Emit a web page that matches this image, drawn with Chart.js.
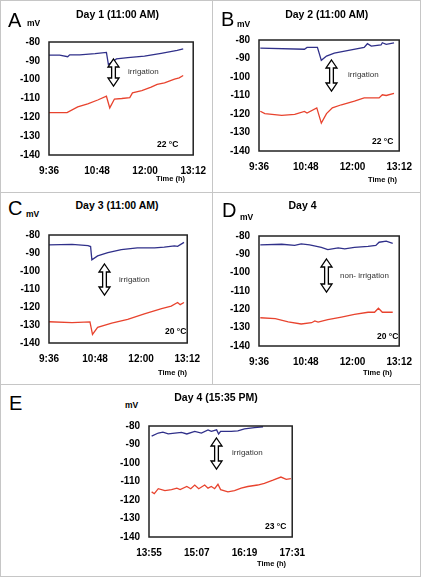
<!DOCTYPE html>
<html><head><meta charset="utf-8">
<script src="https://cdn.jsdelivr.net/npm/chart.js@4.4.0/dist/chart.umd.min.js"></script>
<style>
html,body{margin:0;padding:0;background:#fff;}
#root{position:relative;width:421px;height:577px;overflow:hidden;font-family:"Liberation Sans",Arial,sans-serif;}
.t{position:absolute;white-space:nowrap;line-height:1;color:#000;}
.ln{position:absolute;background:#c6c6c6;}
canvas{position:absolute;}
svg{position:absolute;overflow:visible;}
</style></head><body><div id="root"></div>
<script>
// ---------- DATA ----------
const yTickValues = [-80, -90, -100, -110, -120, -130, -140];
const ticksMorning = [576, 648, 720, 792];          // minutes of day
const ticksMorningLabels = ['9:36', '10:48', '12:00', '13:12'];
const ticksAfternoon = [835, 907, 979, 1051];
const ticksAfternoonLabels = ['13:55', '15:07', '16:19', '17:31'];

const A_blue_t = [576, 592, 604, 607, 622, 645, 662, 665, 677, 694, 719, 744, 768, 777];
const A_blue_v = [-87, -87, -87.8, -86.8, -86.8, -86.2, -85.5, -92, -89, -88.3, -87.5, -86, -84.5, -83.7];
const A_red_t = [576, 603, 619, 634, 649, 662, 667, 674, 685, 697, 701, 715, 729, 738, 749, 764, 771, 777];
const A_red_v = [-117.5, -117.5, -114.5, -112.8, -110.8, -108.8, -115, -110.3, -110, -109.5, -107, -105.8, -104, -102.5, -101.7, -99.7, -99, -97.8];

const B_blue_t = [578, 646, 650, 666, 672, 680, 692, 712, 738, 743, 749, 764, 766, 772, 784];
const B_blue_v = [-84.4, -85, -84, -84, -91, -88.7, -87.1, -85.8, -84, -82, -83.3, -82.7, -81.5, -82.4, -81.5];
const B_red_t = [578, 585, 611, 631, 646, 650, 665, 672, 680, 689, 703, 723, 738, 761, 766, 772, 784];
const B_red_v = [-118.5, -119.8, -120.7, -120.2, -118.6, -119.5, -116.7, -124.9, -119.8, -116.7, -115, -113, -111.3, -111.3, -109.6, -110, -108.8];

const C_blue_t = [576, 612, 637, 641, 643, 652, 668, 689, 714, 741, 756, 772, 777, 787];
const C_blue_v = [-85.5, -85.2, -85.9, -86.4, -93.8, -91.6, -89.8, -88.1, -87.2, -87.2, -86.7, -86, -86.3, -84.1];
const C_red_t = [576, 612, 640, 644, 652, 674, 699, 725, 752, 767, 777, 781, 787];
const C_red_v = [-128.2, -128.7, -128.3, -135.2, -131.3, -129, -126.9, -123.8, -120.9, -119.5, -117.5, -118.7, -117.5];

const D_blue_t = [578, 611, 631, 641, 654, 672, 682, 698, 708, 723, 744, 756, 761, 772, 782];
const D_blue_v = [-84.8, -84.5, -85.1, -84.3, -84.8, -86.2, -87.4, -86.5, -87, -86.2, -85.7, -85.1, -83.4, -82.8, -84];
const D_red_t = [578, 601, 621, 641, 657, 662, 667, 682, 703, 723, 744, 754, 760, 766, 782];
const D_red_v = [-124.6, -125.1, -126.8, -128, -127.3, -126.3, -127, -125.6, -124.2, -122.8, -121.6, -121.6, -119.4, -121.6, -121.6];

const E_blue_t = [839, 849, 856, 864, 874, 884, 892, 904, 914, 924, 929, 937, 940, 943, 959, 969, 979, 994, 1007];
const E_blue_v = [-85.5, -83.8, -83.3, -84.3, -83.8, -83.4, -84.3, -82.9, -83.8, -82.1, -82.9, -82.1, -84.3, -82.9, -82.9, -82.6, -81.5, -80.9, -80.4];
const E_red_t = [839, 843, 849, 859, 869, 877, 882, 892, 898, 904, 910, 919, 924, 929, 934, 939, 943, 954, 964, 974, 984, 999, 1009, 1022, 1034, 1042, 1049];
const E_red_v = [-115.6, -116.6, -113.9, -114.9, -114.4, -113.6, -114.4, -112.7, -113.9, -111.9, -113.9, -111.9, -113.6, -112.7, -113.9, -111.5, -114.4, -115.6, -114.9, -113.6, -112.7, -111.9, -111, -109.3, -107.6, -108.8, -108.5];

// ---------- LAYOUT ----------
const FONT = '"Liberation Sans", Arial, sans-serif';
const BLUE = '#30308a', RED = '#e8432e';
const panels = [
  {plot:[49,35,194,155], ticks:ticksMorning, labels:ticksMorningLabels, blue:[A_blue_t,A_blue_v], red:[A_red_t,A_red_v],
   letter:['A',8,19.7], mv:[27,22.5], title:['Day 1 (11:00 AM)',117.5,14], time:[156,179], note:['irrigation',128,72],
   temp:['22 °C',157,144], arrow:[108,59,11,27]},
  {plot:[259,33,400,151], ticks:ticksMorning, labels:ticksMorningLabels, blue:[B_blue_t,B_blue_v], red:[B_red_t,B_red_v],
   letter:['B',221,18.5], mv:[237,24], title:['Day 2 (11:00 AM)',326.7,14], time:[368,180], note:['irrigation',348,75],
   temp:['22 °C',372,141], arrow:[326,60,11,31]},
  {plot:[49,228,188,343], ticks:ticksMorning, labels:ticksMorningLabels, blue:[C_blue_t,C_blue_v], red:[C_red_t,C_red_v],
   letter:['C',8,207.5], mv:[26,214], title:['Day 3 (11:00 AM)',117,205], time:[158,373], note:['irrigation',119,280],
   temp:['20 °C',165,331], arrow:[98.5,264,11,31]},
  {plot:[259,229,400,346], ticks:ticksMorning, labels:ticksMorningLabels, blue:[D_blue_t,D_blue_v], red:[D_red_t,D_red_v],
   letter:['D',222,210], mv:[240,217], title:['Day 4',302.5,205], time:[363,373], note:['non- irrigation',340,276],
   temp:['20 °C',377,336], arrow:[320.5,259,11,33]},
  {plot:[149,419,293,537], ticks:ticksAfternoon, labels:ticksAfternoonLabels, blue:[E_blue_t,E_blue_v], red:[E_red_t,E_red_v],
   letter:['E',9,403], mv:[125,405], title:['Day 4 (15:35 PM)',216,397], time:[257,564], note:['irrigation',232,453],
   temp:['23 °C',265,526], arrow:[211,438,11,31]}
];

const root = document.getElementById('root');
function line(x,y,w,h){const d=document.createElement('div');d.className='ln';Object.assign(d.style,{left:x+'px',top:y+'px',width:w+'px',height:h+'px'});root.appendChild(d);}
line(0,0,421,1); line(0,576,421,1); line(0,0,1,577); line(420,0,1,577);
line(212,0,1,384); line(0,192,421,1); line(0,384,421,1);

function txt(s,x,y,size,weight,align,color){
  const d=document.createElement('div');d.className='t';d.textContent=s;
  d.style.fontSize=size+'px';d.style.fontWeight=weight;d.style.color=color||'#000';
  d.style.left=x+'px';d.style.top=y+'px';
  d.style.transform=align==='center'?'translate(-50%,-50%)':'translate(0,-50%)';
  root.appendChild(d);
}
function arrow(x,y,w,h){
  const ns='http://www.w3.org/2000/svg';
  const s=document.createElementNS(ns,'svg');
  s.setAttribute('width',w);s.setAttribute('height',h);
  s.style.left=x+'px';s.style.top=y+'px';
  const hh=8, sw=w*0.34;
  const c=w/2;
  const pts=[[c,0],[w,hh],[c+sw/2,hh],[c+sw/2,h-hh],[w,h-hh],[c,h],[0,h-hh],[c-sw/2,h-hh],[c-sw/2,hh],[0,hh]];
  const p=document.createElementNS(ns,'polygon');
  p.setAttribute('points',pts.map(q=>q.join(',')).join(' '));
  p.setAttribute('fill','#fff');p.setAttribute('stroke','#000');p.setAttribute('stroke-width','1.3');
  p.setAttribute('stroke-linejoin','miter');
  s.appendChild(p);root.appendChild(s);
}

const frame = {
  id:'frame',
  afterDatasetsDraw(chart){
    const a=chart.chartArea, ctx=chart.ctx;
    ctx.save();ctx.strokeStyle='#222';ctx.lineWidth=1.5;
    ctx.strokeRect(a.left,a.top,a.right-a.left,a.bottom-a.top);ctx.restore();
  }
};

const YW=46, PT=8, PR=22, XH=28;
panels.forEach(p=>{
  const [l,t,r,b]=p.plot;
  const cv=document.createElement('canvas');
  const W=(r-l)+YW+PR, H=(b-t)+PT+XH;
  cv.width=W;cv.height=H;cv.style.width=W+'px';cv.style.height=H+'px';
  cv.style.left=(l-YW)+'px';cv.style.top=(t-PT)+'px';
  root.appendChild(cv);
  const zip=(ts,vs)=>ts.map((x,i)=>({x,y:vs[i]}));
  const ticks=p.ticks, labels=p.labels;
  new Chart(cv,{
    type:'line',
    data:{datasets:[
      {data:zip(p.blue[0],p.blue[1]),borderColor:BLUE,borderWidth:1.3,pointRadius:0,tension:0},
      {data:zip(p.red[0],p.red[1]),borderColor:RED,borderWidth:1.3,pointRadius:0,tension:0}
    ]},
    options:{
      responsive:false,animation:false,
      layout:{padding:{left:0,top:PT,right:PR,bottom:0}},
      plugins:{legend:{display:false},tooltip:{enabled:false}},
      scales:{
        x:{type:'linear',min:ticks[0],max:ticks[ticks.length-1],
           afterBuildTicks:s=>{s.ticks=ticks.map(v=>({value:v}));},
           afterFit:s=>{s.height=XH;},
           grid:{display:false,drawTicks:false},border:{display:false},
           ticks:{autoSkip:false,maxRotation:0,padding:10,color:'#000',font:{family:FONT,size:10,weight:'bold'},
             callback:(v)=>labels[ticks.indexOf(v)]}},
        y:{type:'linear',min:-140,max:-80,
           afterBuildTicks:s=>{s.ticks=yTickValues.map(v=>({value:v}));},
           afterFit:s=>{s.width=YW;},
           grid:{display:false,drawTicks:false},border:{display:false},
           ticks:{autoSkip:false,padding:9,color:'#000',font:{family:FONT,size:10,weight:'bold'}}}
      }
    },
    plugins:[frame]
  });
  txt(p.letter[0],p.letter[1],p.letter[2],20,'normal','left');
  txt('mV',p.mv[0],p.mv[1],8.5,'bold','left');
  txt(p.title[0],p.title[1],p.title[2],10.5,'bold','center');
  txt('Time (h)',p.time[0],p.time[1],7.5,'bold','left');
  txt(p.note[0],p.note[1],p.note[2],8,'normal','left','#333');
  txt(p.temp[0],p.temp[1],p.temp[2],8.5,'bold','left');
  arrow(p.arrow[0],p.arrow[1],p.arrow[2],p.arrow[3]);
});
</script></body></html>
